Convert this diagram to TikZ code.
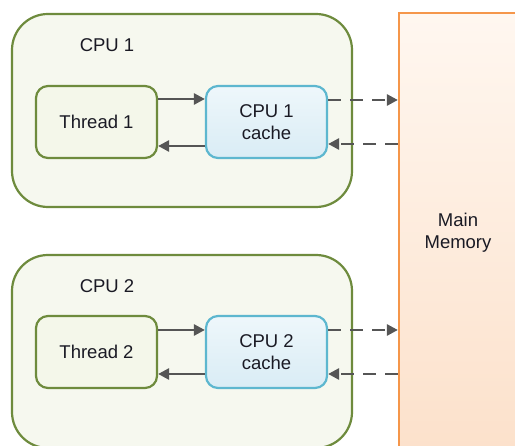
\documentclass[tikz,border=0pt]{standalone}
\usepackage{fontspec}
\setmainfont{Liberation Sans}
\usetikzlibrary{arrows.meta}
\definecolor{cpuedge}{HTML}{6E8B3D}
\definecolor{cpufill}{HTML}{F6F8EF}
\definecolor{thrfill}{HTML}{F4F7EA}
\definecolor{cacheedge}{HTML}{5DB7CF}
\definecolor{cachetop}{HTML}{EEF7FB}
\definecolor{cachebot}{HTML}{D9ECF5}
\definecolor{memedge}{HTML}{F5964A}
\definecolor{memtop}{HTML}{FFF7F0}
\definecolor{membot}{HTML}{FCE1CB}
\definecolor{arrgray}{HTML}{555555}
\definecolor{txt}{HTML}{1A1A24}
\tikzset{
  lbl/.style={font=\fontsize{18.5}{22}\selectfont, text=txt, align=center},
  cpubox/.style={draw=cpuedge, line width=2.2pt, fill=cpufill, rounded corners=36pt, minimum width=340pt, inner sep=0pt},
  thrbox/.style={lbl, draw=cpuedge, line width=2.2pt, fill=thrfill, rounded corners=12pt, minimum width=121pt, minimum height=72pt, inner sep=0pt},
  cachebox/.style={lbl, draw=cacheedge, line width=2.2pt, top color=cachetop, bottom color=cachebot, rounded corners=12pt, minimum width=121pt, minimum height=72pt, inner sep=0pt},
  membox/.style={lbl, draw=memedge, line width=2.2pt, top color=memtop, bottom color=membot, minimum width=121pt, minimum height=437pt, inner sep=0pt},
  arr/.style={draw=arrgray, line width=2.6pt, -{Triangle[length=11pt,width=11pt]}},
  darr/.style={arr, dash pattern=on 13pt off 9pt},
}
\begin{document}
\begin{tikzpicture}[x=1pt,y=-1pt]
\useasboundingbox (0,0) rectangle (515,446);
\clip (0,0) rectangle (515,446);
% memory
\node[membox] (mem) at (459.5,231.5) {};
\node[lbl] (memtxt) at (458,233) {Main\\Memory};
% CPU boxes
\node[cpubox, minimum height=193pt] (cpu1) at (182,110.5) {};
\node[cpubox, minimum height=193pt] (cpu2) at (182,351.5) {};
\node[lbl] (cpu1lbl) at (107,45) {CPU 1};
\node[lbl] (cpu2lbl) at (107,286) {CPU 2};
% threads and caches
\node[thrbox] (t1) at (96.5,122) {Thread 1};
\node[cachebox] (c1) at (266.5,122) {CPU 1\\cache};
\node[thrbox] (t2) at (96.5,352) {Thread 2};
\node[cachebox] (c2) at (266.5,352) {CPU 2\\cache};
% coordinates
\coordinate (t1a) at ([yshift=23pt]t1.east);
\coordinate (t1b) at ([yshift=-24pt]t1.east);
\coordinate (c1a) at ([yshift=22pt]c1.east);
\coordinate (c1b) at ([yshift=-22pt]c1.east);
\coordinate (t2a) at ([yshift=22pt]t2.east);
\coordinate (t2b) at ([yshift=-22pt]t2.east);
\coordinate (c2a) at ([yshift=22pt]c2.east);
\coordinate (c2b) at ([yshift=-22pt]c2.east);
% solid arrows
\draw[arr] (t1a) -- (t1a -| c1.west);
\draw[arr] (t1b -| c1.west) -- (t1b);
\draw[arr] (t2a) -- (t2a -| c2.west);
\draw[arr] (t2b -| c2.west) -- (t2b);
% dashed arrows
\draw[darr] (c1a) -- (c1a -| mem.west);
\draw[darr] (c1b -| mem.west) -- (c1b);
\draw[darr] (c2a) -- (c2a -| mem.west);
\draw[darr] (c2b -| mem.west) -- (c2b);
\end{tikzpicture}
\end{document}
